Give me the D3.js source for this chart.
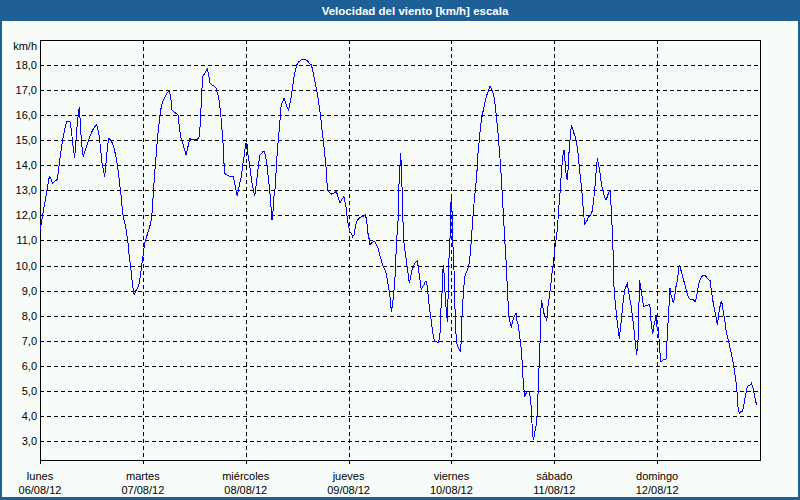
<!DOCTYPE html>
<html><head><meta charset="utf-8">
<script src="https://cdn.jsdelivr.net/npm/d3@7"></script>
<style>body{margin:0;padding:0;}svg{display:block;}</style>
</head><body>
<script>
const title = "Velocidad del viento [km/h] escala";
const unitLabel = "km/h";
const yTicks = [3,4,5,6,7,8,9,10,11,12,13,14,15,16,17,18];
const dayNames = ["lunes","martes","miércoles","jueves","viernes","sábado","domingo"];
const dayDates = ["06/08/12","07/08/12","08/08/12","09/08/12","10/08/12","11/08/12","12/08/12"];
const dayStarts = [0,24,48,72,96,120,144];
const hours = [0,0.62,1.24,1.71,2.18,2.49,2.96,3.42,4.04,4.36,4.82,5.29,5.76,6.22,7.0,7.31,7.62,7.93,8.09,8.4,8.71,9.02,9.18,9.41,9.64,9.96,10.11,10.42,10.89,11.36,11.82,12.29,12.76,13.22,13.53,13.84,14.16,14.47,14.78,15.09,15.4,15.71,16.02,16.49,16.96,17.27,17.73,18.04,18.36,18.67,18.98,19.29,19.6,19.91,20.22,20.53,20.84,21.16,21.47,21.78,22.01,22.24,22.71,23.18,23.49,23.8,24.11,24.42,24.89,25.36,25.82,26.13,26.44,26.76,27.07,27.38,27.69,28.0,28.31,28.78,29.24,29.71,30.18,30.49,30.8,31.11,31.89,32.2,32.51,32.82,33.29,33.76,34.07,34.38,34.69,35.0,35.31,35.78,36.24,36.71,37.18,37.49,37.64,37.96,38.42,38.89,39.04,39.36,39.67,40.13,40.76,41.07,41.53,41.84,42.16,42.47,42.78,42.93,43.09,43.56,44.18,44.8,45.11,45.42,45.73,46.04,46.36,46.67,46.98,47.29,47.6,47.91,48.07,48.38,48.53,48.84,49.16,49.47,49.78,50.09,50.4,50.71,51.02,51.33,51.8,52.27,52.58,52.89,53.2,53.51,53.82,53.98,54.13,54.44,54.6,54.91,55.07,55.38,55.69,56.0,56.16,56.47,56.93,57.24,57.56,58.02,58.18,58.49,58.8,59.11,59.42,59.89,60.36,60.98,61.76,62.38,62.84,63.31,63.62,63.93,64.24,64.56,64.87,65.18,65.49,65.8,66.11,66.42,66.73,66.89,67.2,67.51,67.98,68.44,68.76,69.07,69.38,69.69,70.0,70.31,70.62,70.93,71.09,71.4,71.71,72.02,72.33,72.64,72.96,73.27,73.58,73.89,74.2,74.67,75.13,75.6,75.91,76.22,76.53,76.84,77.0,77.31,77.78,78.09,78.56,78.87,79.18,79.49,79.8,80.11,80.42,80.73,81.04,81.36,81.67,81.98,82.29,82.44,82.76,82.91,83.22,83.53,83.69,84.0,84.16,84.31,84.47,84.62,84.78,84.93,85.24,85.56,85.87,86.18,86.49,86.8,87.11,87.42,88.04,88.36,88.67,88.98,89.29,89.6,89.91,90.22,90.53,90.84,91.16,91.47,91.78,92.09,92.56,93.02,93.33,93.49,93.8,93.96,94.11,94.27,94.42,94.73,95.04,95.2,95.36,95.51,95.67,95.82,95.98,96.13,96.29,96.44,96.6,96.76,96.91,97.22,97.53,97.84,98.16,98.31,98.47,98.78,99.09,99.4,99.71,100.02,100.33,100.64,100.96,101.27,101.58,101.89,102.2,102.51,102.82,103.13,103.44,103.76,104.07,104.38,104.69,105.0,105.31,105.62,105.93,106.24,106.56,106.87,107.18,107.49,107.8,108.11,108.42,108.73,109.04,109.36,109.67,109.98,110.29,110.6,111.07,111.22,111.53,111.84,112.16,112.47,112.62,112.93,113.09,113.4,113.71,114.18,114.49,114.64,114.8,114.96,115.11,115.27,115.42,115.73,116.04,116.36,116.67,116.82,116.98,117.29,117.6,117.91,118.22,118.38,118.53,118.84,119.16,119.47,119.78,120.09,120.4,120.71,121.02,121.33,121.64,121.96,122.27,122.42,122.73,123.04,123.2,123.36,123.67,123.98,124.29,124.6,124.91,125.22,125.53,125.84,126.16,126.47,126.78,127.09,127.4,127.71,128.02,128.49,128.8,129.11,129.42,129.73,130.04,130.36,130.67,130.98,131.29,131.6,132.07,132.38,132.69,133.0,133.31,133.62,133.78,133.93,134.24,134.56,134.87,135.18,135.49,135.8,136.11,136.42,136.73,137.04,137.36,137.67,137.98,138.29,138.6,138.91,139.22,139.53,139.69,139.84,140.0,140.16,140.31,140.62,140.78,141.24,141.87,142.18,142.33,142.49,142.64,142.96,143.11,143.27,143.58,143.73,143.89,144.04,144.2,144.36,144.51,144.67,144.82,145.44,146.07,146.22,146.38,146.69,146.84,147.0,147.16,147.47,147.78,148.09,148.4,148.71,149.02,149.18,149.33,149.64,149.96,150.27,150.58,150.89,151.2,151.51,151.98,152.44,152.91,153.22,153.53,153.84,154.16,154.47,154.78,155.09,155.4,155.71,156.18,156.33,156.64,156.96,157.27,157.58,157.89,158.04,158.2,158.51,158.82,158.98,159.13,159.44,159.76,160.07,160.38,160.69,161.0,161.31,161.62,161.93,162.24,162.56,162.71,162.87,163.18,163.49,163.8,164.11,164.42,164.73,165.04,165.36,165.67,165.98,166.29,166.6,166.91,167.22];
const speeds = [11.4,12.02,12.61,13.08,13.55,13.48,13.28,13.35,13.44,13.88,14.48,15.01,15.43,15.74,15.74,15.43,14.88,14.48,14.28,15.01,15.67,16.14,16.34,15.67,15.01,14.48,14.34,14.54,14.77,15.01,15.23,15.41,15.54,15.61,15.41,15.14,14.61,14.08,13.81,13.55,14.08,14.68,15.07,15.01,14.85,14.68,14.34,14.01,13.61,13.15,12.68,12.08,11.82,11.62,11.28,10.89,10.35,9.95,9.42,9.02,8.82,8.96,9.09,9.29,9.69,10.09,10.49,10.89,11.15,11.42,11.68,12.08,12.88,13.68,14.34,15.01,15.54,16.01,16.34,16.6,16.76,16.9,16.98,16.74,16.2,16.14,16.05,16.01,15.54,15.14,14.88,14.61,14.41,14.61,14.88,15.07,15.01,15.03,15.01,15.03,15.14,15.94,16.6,17.53,17.67,17.8,17.83,17.6,17.27,17.2,17.14,17.07,16.8,16.54,16.07,15.41,14.74,14.08,13.68,13.61,13.57,13.57,13.55,13.28,13.01,12.77,13.08,13.35,13.55,14.01,14.34,14.74,14.88,14.81,14.41,14.08,13.68,13.28,13.01,12.77,13.15,13.61,14.08,14.41,14.5,14.58,14.41,14.08,13.61,13.15,12.61,12.08,11.82,12.28,12.75,13.15,13.68,14.61,15.14,15.81,16.27,16.47,16.67,16.54,16.34,16.2,16.34,16.6,16.94,17.34,17.67,18.0,18.13,18.2,18.23,18.17,18.07,18.0,17.8,17.53,17.27,17.0,16.67,16.34,15.94,15.41,15.01,14.48,13.94,13.41,13.01,12.91,12.85,12.88,12.91,12.95,12.85,12.64,12.48,12.61,12.68,12.75,12.61,12.35,11.88,11.55,11.35,11.28,11.15,11.22,11.55,11.75,11.84,11.92,11.95,11.98,12.02,11.82,11.28,11.02,10.82,10.89,10.95,10.95,10.82,10.69,10.49,10.29,10.11,9.95,9.85,9.72,9.42,9.09,8.76,8.16,8.49,8.76,9.29,9.82,11.02,11.75,13.01,14.01,14.48,13.97,13.15,12.08,11.42,10.89,10.49,10.09,9.69,9.29,9.56,9.82,9.95,10.09,10.19,9.82,9.42,9.02,9.16,9.22,9.36,9.36,8.89,8.36,7.96,7.56,7.16,6.96,6.96,6.92,7.29,8.09,8.89,9.69,10.02,9.69,9.16,8.36,7.76,8.63,9.69,10.89,11.09,12.22,12.81,12.22,11.02,10.49,9.82,8.89,7.69,6.9,6.76,6.63,6.56,7.16,7.96,8.89,9.56,9.69,9.82,9.95,10.35,11.02,11.82,12.48,13.01,13.55,14.48,15.01,15.61,15.94,16.2,16.47,16.67,16.87,17.0,17.14,17.07,16.94,16.74,16.34,15.81,15.27,14.61,13.94,13.01,12.08,11.09,10.22,9.16,8.03,7.76,7.56,7.76,7.96,8.09,7.83,7.69,7.29,6.9,6.23,5.7,5.03,4.77,4.9,4.97,4.97,4.64,4.24,3.7,3.31,3.04,3.17,3.31,3.57,4.1,5.57,6.9,7.96,8.63,8.36,8.09,7.96,7.83,7.96,8.36,8.76,9.16,9.69,10.09,10.62,11.02,11.42,12.22,12.88,13.68,14.34,14.61,14.34,13.68,13.41,13.81,14.34,15.01,15.61,15.47,15.27,15.14,14.88,14.48,13.94,13.41,12.88,12.22,11.62,11.75,11.82,11.95,12.02,12.15,12.48,13.01,13.68,14.28,14.01,13.68,13.28,13.01,12.81,12.61,12.75,12.91,13.01,12.22,11.02,10.22,9.16,8.49,7.96,7.49,7.09,7.56,8.09,8.63,9.02,9.16,9.29,8.96,8.63,8.36,7.89,7.43,6.9,6.43,7.03,7.56,9.42,9.02,9.29,8.89,8.69,8.36,8.39,8.43,8.43,8.36,7.96,7.63,7.29,7.43,7.63,7.83,8.03,7.69,7.43,7.56,7.29,6.9,6.5,6.16,6.23,6.26,6.63,7.29,8.09,8.63,9.09,8.89,8.69,8.49,8.76,9.16,9.42,9.82,10.02,9.95,9.76,9.56,9.36,9.16,8.96,8.78,8.69,8.63,8.63,8.56,8.76,9.09,9.36,9.49,9.56,9.62,9.62,9.56,9.49,9.42,9.42,9.02,8.63,8.36,8.09,7.83,7.63,7.83,8.23,8.49,8.56,8.49,8.16,7.83,7.43,7.16,6.96,6.7,6.5,6.23,5.9,5.57,5.17,4.77,4.37,4.1,4.17,4.17,4.3,4.64,4.9,5.17,5.23,5.23,5.3,5.17,4.9,4.64,4.44];

const W = 800, H = 500;
const plot = {left: 40, right: 760, top: 40, bottom: 460};
const font = "'Liberation Sans', Arial, sans-serif";

const svg = d3.select("body").append("svg").attr("width", W).attr("height", H);

// background + frame
svg.append("rect").attr("x",0).attr("y",0).attr("width",W).attr("height",H).attr("fill","#1e5f96");
svg.append("rect").attr("x",2).attr("y",21).attr("width",W-4).attr("height",H-24).attr("fill","#f8fcf8");
svg.append("text").attr("x",415).attr("y",15).attr("text-anchor","middle")
  .attr("font-family",font).attr("font-size","11.5px").attr("font-weight","bold")
  .attr("fill","#ffffff").text(title);

const x = d3.scaleLinear().domain([0,168]).range([plot.left, plot.right]);
const y = d3.scaleLinear().domain([3,18]).range([441,65]);

// horizontal grid
svg.append("g").selectAll("line").data(yTicks).join("line")
  .attr("x1",plot.left).attr("x2",plot.right)
  .attr("y1",d=>Math.round(y(d))+0.5).attr("y2",d=>Math.round(y(d))+0.5)
  .attr("stroke","#000").attr("stroke-width",1).attr("stroke-dasharray","4,3")
  .attr("shape-rendering","crispEdges");
// vertical grid
svg.append("g").selectAll("line").data(dayStarts.slice(1)).join("line")
  .attr("x1",d=>Math.round(x(d))+0.5).attr("x2",d=>Math.round(x(d))+0.5)
  .attr("y1",plot.top).attr("y2",plot.bottom+4)
  .attr("stroke","#000").attr("stroke-width",1).attr("stroke-dasharray","4,3")
  .attr("shape-rendering","crispEdges");
// left tick at lunes
svg.append("line").attr("x1",plot.left+0.5).attr("x2",plot.left+0.5).attr("y1",plot.bottom).attr("y2",plot.bottom+4)
  .attr("stroke","#000").attr("shape-rendering","crispEdges");

// frame
svg.append("rect").attr("x",plot.left+0.5).attr("y",plot.top+0.5)
  .attr("width",plot.right-plot.left).attr("height",plot.bottom-plot.top)
  .attr("fill","none").attr("stroke","#000").attr("stroke-width",1).attr("shape-rendering","crispEdges");

// y labels
svg.append("g").selectAll("text").data(yTicks).join("text")
  .attr("x",37).attr("y",d=>y(d)+4).attr("text-anchor","end")
  .attr("font-family",font).attr("font-size","11px").attr("fill","#000")
  .text(d=>d.toFixed(1).replace(".",","));
svg.append("text").attr("x",37).attr("y",50).attr("text-anchor","end")
  .attr("font-family",font).attr("font-size","11px").attr("fill","#000").text(unitLabel);

// x labels
const xl = svg.append("g");
xl.selectAll("text.day").data(dayStarts).join("text").attr("class","day")
  .attr("x",d=>x(d)).attr("y",480).attr("text-anchor","middle")
  .attr("font-family",font).attr("font-size","11px").attr("fill","#000")
  .text((d,i)=>dayNames[i]);
xl.selectAll("text.date").data(dayStarts).join("text").attr("class","date")
  .attr("x",d=>x(d)).attr("y",494).attr("text-anchor","middle")
  .attr("font-family",font).attr("font-size","11px").attr("fill","#000")
  .text((d,i)=>dayDates[i]);

// line
const pts = hours.map((h,i)=>[h, speeds[i]]);
svg.append("path").datum(pts)
  .attr("d", d3.line().x(d=>x(d[0])).y(d=>y(d[1])))
  .attr("fill","none").attr("stroke","#0000ff").attr("stroke-width",1)
  .attr("shape-rendering","crispEdges");
</script>
</body></html>
